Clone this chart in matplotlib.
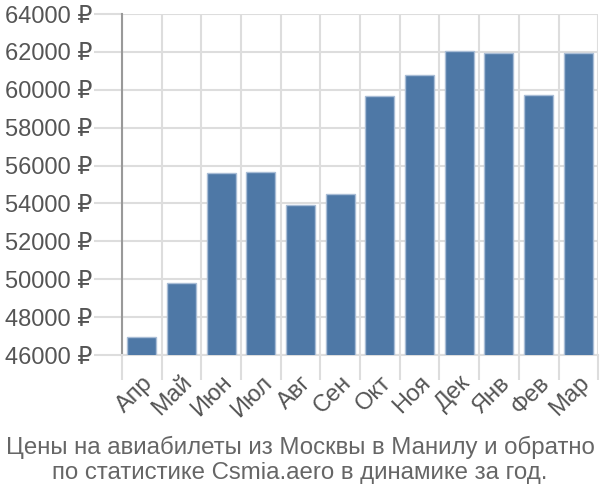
import matplotlib.pyplot as plt
import numpy as np

plt.rcParams['font.family'] = ['Liberation Sans', 'DejaVu Sans']

# Data
months = ["Апр", "Май", "Июн", "Июл", "Авг", "Сен", "Окт", "Ноя", "Дек", "Янв", "Фев", "Мар"]
prices = [46960, 49810, 55590, 55640, 53920, 54520, 59660, 60780, 62050, 61960, 59710, 61960]
yticks = [46000, 48000, 50000, 52000, 54000, 56000, 58000, 60000, 62000, 64000]
title = "Цены на авиабилеты из Москвы в Манилу и обратно\nпо статистике Csmia.aero в динамике за год."

fig = plt.figure(figsize=(6, 5), dpi=100)
ax = fig.add_axes([0.203, 0.29, 0.794, 0.682])

x = np.arange(len(months))
ax.bar(x, prices, width=0.73, color="#4e78a6", edgecolor="#a9bdd6", linewidth=1, zorder=3)

ax.set_ylim(46000, 64000)
ax.set_xlim(-0.5, len(months) - 0.5)
ax.set_yticks(yticks)
ax.set_yticklabels([f"{v} ₽" for v in yticks])
ax.set_xticks(x)
ax.set_xticklabels(months, rotation=45, ha="right", va="top", rotation_mode="anchor")
ax.set_xticks(np.arange(len(months) + 1) - 0.5, minor=True)

ax.tick_params(axis="y", length=20, color="#dddddd", width=1.5, labelsize=17, labelcolor="#555555", pad=1)
ax.tick_params(axis="x", which="major", length=0, labelsize=17, labelcolor="#555555", pad=12)
ax.tick_params(axis="x", which="minor", length=18, color="#dddddd", width=1.5)

ax.grid(axis="y", color="#dddddd", linewidth=1.5, zorder=0)
ax.grid(axis="x", which="minor", color="#dddddd", linewidth=1.5, zorder=0)

for s in ["top", "right"]:
    ax.spines[s].set_visible(False)
ax.spines["bottom"].set_color("#dddddd")
ax.spines["bottom"].set_linewidth(1.5)
ax.spines["left"].set_color("#999999")
ax.spines["left"].set_linewidth(1.5)

fig.text(0.5, 0.08, title, ha="center", va="center", fontsize=17.3, color="#666666", linespacing=1.15)

fig.savefig("out.png", dpi=100)
